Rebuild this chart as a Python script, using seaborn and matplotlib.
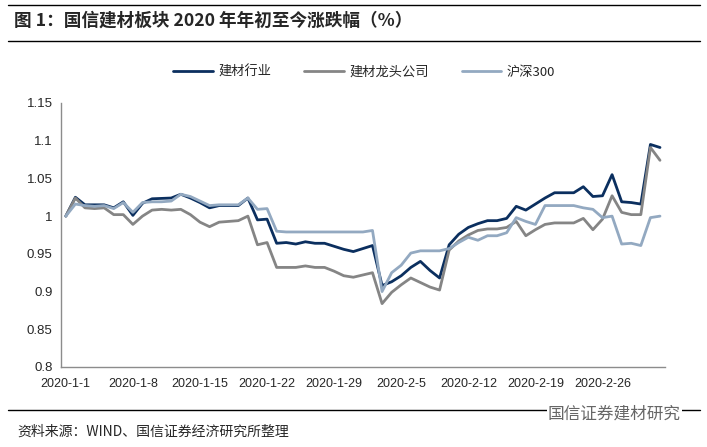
import numpy as np
import pandas as pd
import matplotlib
matplotlib.use("Agg")
import matplotlib.pyplot as plt
import matplotlib.dates as mdates
from matplotlib.lines import Line2D
from matplotlib.ticker import FuncFormatter
import seaborn as sns

# 日期（自然日，2020-1-1 至 2020-3-3）
dates = pd.date_range("2020-01-01", "2020-03-03", freq="D")

# 建材行业
jiancai = [1.000, 1.025, 1.015, 1.015, 1.015, 1.011, 1.019, 1.001, 1.017, 1.023,
           1.0235, 1.024, 1.029, 1.024, 1.018, 1.011, 1.014, 1.014, 1.014, 1.024,
           0.995, 0.996, 0.964, 0.965, 0.963, 0.966, 0.964, 0.964, 0.960, 0.956,
           0.953, 0.957, 0.961, 0.908, 0.913, 0.921, 0.932, 0.940, 0.928, 0.918,
           0.962, 0.976, 0.985, 0.990, 0.994, 0.994, 0.997, 1.013, 1.008, 1.016,
           1.024, 1.031, 1.031, 1.031, 1.039, 1.026, 1.027, 1.055, 1.019, 1.018,
           1.016, 1.095, 1.091]

# 建材龙头公司
longtou = [1.000, 1.024, 1.011, 1.010, 1.011, 1.002, 1.002, 0.989, 1.000, 1.008,
           1.009, 1.008, 1.009, 1.002, 0.992, 0.986, 0.992, 0.993, 0.994, 1.000,
           0.962, 0.965, 0.932, 0.932, 0.932, 0.934, 0.932, 0.932, 0.927, 0.921,
           0.919, 0.922, 0.925, 0.884, 0.899, 0.909, 0.918, 0.912, 0.906, 0.902,
           0.955, 0.967, 0.975, 0.981, 0.983, 0.983, 0.985, 0.993, 0.974, 0.982,
           0.989, 0.991, 0.991, 0.991, 0.997, 0.982, 0.996, 1.027, 1.005, 1.002,
           1.002, 1.091, 1.074]

# 沪深300
hs300 = [1.000, 1.016, 1.014, 1.013, 1.014, 1.010, 1.018, 1.005, 1.018, 1.019,
         1.019, 1.020, 1.029, 1.026, 1.020, 1.014, 1.015, 1.015, 1.015, 1.024,
         1.009, 1.010, 0.980, 0.979, 0.979, 0.979, 0.979, 0.979, 0.979, 0.979,
         0.979, 0.979, 0.981, 0.900, 0.925, 0.935, 0.951, 0.954, 0.954, 0.954,
         0.957, 0.965, 0.972, 0.968, 0.974, 0.974, 0.978, 0.998, 0.993, 0.989,
         1.014, 1.014, 1.014, 1.014, 1.011, 1.009, 0.998, 1.000, 0.963, 0.964,
         0.961, 0.998, 1.000]

series_names = ["建材行业", "建材龙头公司", "沪深300"]
colors = ["#0b2f5f", "#858585", "#93a9c1"]
yticks = [0.8, 0.85, 0.9, 0.95, 1.0, 1.05, 1.1, 1.15]
label_dates = pd.date_range("2020-01-01", "2020-02-26", freq="7D")

df = pd.DataFrame({"date": dates, series_names[0]: jiancai,
                   series_names[1]: longtou, series_names[2]: hs300})
df = df.melt(id_vars="date", var_name="series", value_name="value")

sns.set_theme(style="white")
plt.rcParams['font.family'] = ['Noto Sans CJK SC', 'DejaVu Sans']

fig = plt.figure(figsize=(7.07, 4.47), dpi=100)
ax = fig.add_axes([0.0863, 0.179, 0.854, 0.5906])

sns.lineplot(data=df, x="date", y="value", hue="series", hue_order=series_names,
             palette=colors, linewidth=2, ax=ax, legend=False)
for ln in ax.get_lines():
    ln.set_solid_joinstyle("round")
    ln.set_solid_capstyle("round")

# 坐标轴
x0 = mdates.date2num(dates[0]) - 0.5
x1 = mdates.date2num(dates[-1]) + 0.5
ax.set_xlim(x0, x1)
ax.set_ylim(0.8, 1.15)
ax.set_xlabel("")
ax.set_ylabel("")

bounds = list(mdates.date2num(label_dates) - 0.5) + [x1]
ax.set_xticks(bounds)
ax.set_xticklabels([])
ax.set_xticks(mdates.date2num(label_dates), minor=True)
ax.set_xticklabels([f"{d.year}-{d.month}-{d.day}" for d in label_dates], minor=True,
                   family="Liberation Sans", fontsize=9)
ax.set_yticks(yticks)
ax.yaxis.set_major_formatter(FuncFormatter(lambda v, p: f"{v:g}"))
for lab in ax.get_yticklabels():
    lab.set_family("Liberation Sans")
    lab.set_fontsize(9.5)

ax.tick_params(axis="x", which="major", direction="in", length=4, color="#8c8c8c")
ax.tick_params(axis="x", which="minor", length=0, pad=8)
ax.tick_params(axis="y", direction="in", length=4, color="#8c8c8c", pad=6)
for s in ["top", "right"]:
    ax.spines[s].set_visible(False)
for s in ["left", "bottom"]:
    ax.spines[s].set_color("#8c8c8c")
    ax.spines[s].set_linewidth(1)

# 图例
handles = [Line2D([0], [0], color=c, lw=2) for c in colors]
fig.legend(handles, series_names, loc="center", bbox_to_anchor=(0.515, 0.839), ncol=3,
           frameon=False, fontsize=9.5, handlelength=3, columnspacing=2.5, handletextpad=0.4)

# 标题与来源
fig.text(0.02, 1 - 21 / 447, "图 1：国信建材板块 2020 年年初至今涨跌幅（%）",
         fontsize=12.7, fontweight="bold", va="center")
for yy in [1 - 5 / 447, 1 - 41 / 447, 1 - 410 / 447]:
    fig.add_artist(Line2D([0.012, 0.99], [yy, yy], transform=fig.transFigure,
                          color="black", lw=1))
fig.text(0.025, 1 - 432 / 447, "资料来源：WIND、国信证券经济研究所整理", fontsize=10, va="center")
fig.text(0.775, 1 - 414 / 447, "国信证券建材研究", fontsize=12, color="#666666", va="center",
         bbox=dict(facecolor="white", edgecolor="none", pad=1))

fig.savefig("out.png", dpi=100)
